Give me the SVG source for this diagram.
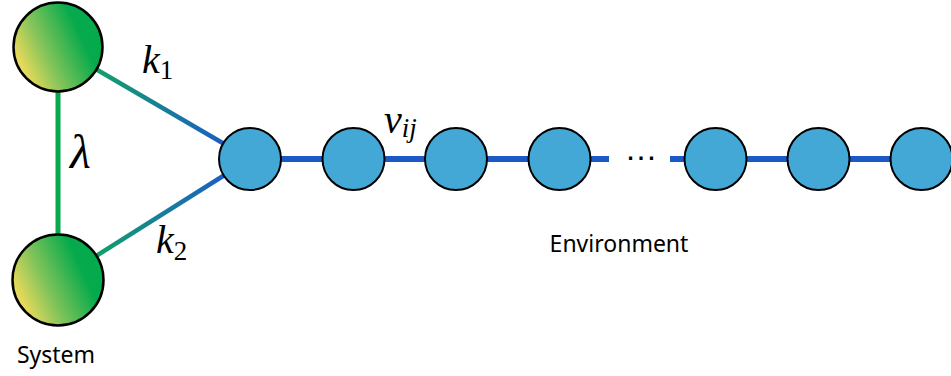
<svg xmlns="http://www.w3.org/2000/svg" width="951" height="376" viewBox="0 0 951 376">
<defs>
<linearGradient id="sysGrad" x1="0.05" y1="0.8" x2="0.8" y2="0.45">
<stop offset="0" stop-color="#ffdf5a"/>
<stop offset="0.45" stop-color="#86c45a"/>
<stop offset="1" stop-color="#04aa4c"/>
</linearGradient>
<linearGradient id="k1Grad" gradientUnits="userSpaceOnUse" x1="97" y1="70" x2="224" y2="142">
<stop offset="0" stop-color="#12a06a"/>
<stop offset="1" stop-color="#1d5ec2"/>
</linearGradient>
<linearGradient id="k2Grad" gradientUnits="userSpaceOnUse" x1="97" y1="257" x2="224" y2="176">
<stop offset="0" stop-color="#12a06a"/>
<stop offset="1" stop-color="#1d5ec2"/>
</linearGradient>
<style>
.sys{fill:url(#sysGrad);stroke:#000;stroke-width:2.5}
.env{fill:#43a8d6;stroke:#000;stroke-width:2}
.chain{stroke:#1b59c4;stroke-width:6;fill:none}
</style>
</defs>
<g id="connectors">
<line x1="58" y1="47" x2="58" y2="280" stroke="#08a84f" stroke-width="5"/>
<line x1="58" y1="47" x2="250" y2="159" stroke="url(#k1Grad)" stroke-width="4.5"/>
<line x1="58" y1="280" x2="250" y2="159" stroke="url(#k2Grad)" stroke-width="4.5"/>
<line class="chain" x1="250" y1="159" x2="609" y2="159"/>
<line class="chain" x1="670" y1="159" x2="951" y2="159"/>
</g>
<g id="sys1"><circle class="sys" cx="58" cy="47" r="44.5"/></g>
<g id="sys2"><circle class="sys" cx="58" cy="280" r="45.5"/></g>
<g id="env1"><circle class="env" cx="250" cy="159" r="31"/></g>
<g id="env2"><circle class="env" cx="353.5" cy="159" r="31"/></g>
<g id="env3"><circle class="env" cx="456" cy="159" r="31"/></g>
<g id="env4"><circle class="env" cx="559.5" cy="159" r="31"/></g>
<g id="env5"><circle class="env" cx="715.5" cy="159" r="31"/></g>
<g id="env6"><circle class="env" cx="818.5" cy="159" r="31"/></g>
<g id="env7"><circle class="env" cx="921.5" cy="159" r="31"/></g>
<g id="labels" font-family="'Liberation Serif', serif" fill="#000">
<text x="142" y="73" font-size="40" font-style="italic">k<tspan font-size="27" font-style="normal" dy="6">1</tspan></text>
<text x="70" y="168" font-size="48" font-style="italic">λ</text>
<text x="156" y="253" font-size="40" font-style="italic">k<tspan font-size="27" font-style="normal" dy="7">2</tspan></text>
<text x="384" y="133" font-size="40" font-style="italic">v<tspan font-size="27" dy="4">ij</tspan></text>
<text x="641" y="160" font-size="33" text-anchor="middle" font-family="'Liberation Sans', sans-serif">…</text>
<text x="56" y="363" font-size="23" text-anchor="middle" font-family="'Noto Sans', sans-serif">System</text>
<text x="619" y="252" font-size="23" text-anchor="middle" font-family="'Noto Sans', sans-serif">Environment</text>
</g>
</svg>
